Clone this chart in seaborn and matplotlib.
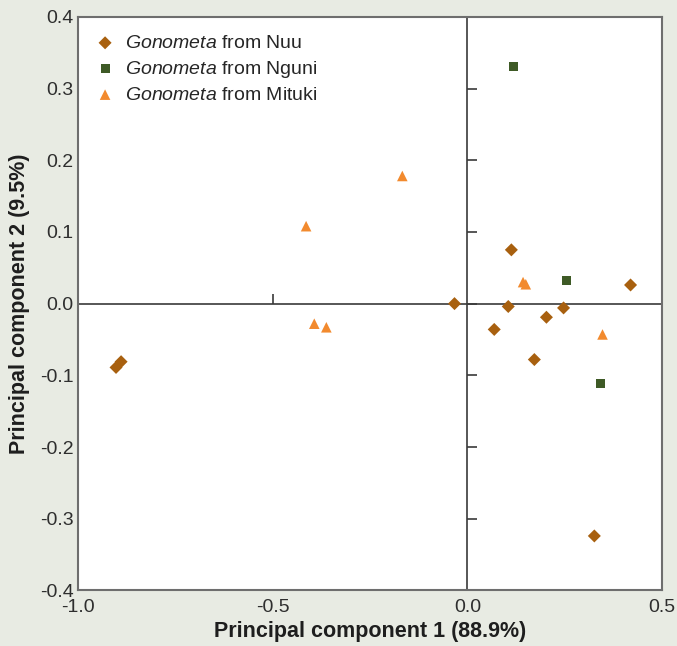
import matplotlib
matplotlib.use("Agg")
import matplotlib.pyplot as plt
from matplotlib.markers import TICKRIGHT, TICKUP
import seaborn as sns
import pandas as pd

groups = [r"$\it{Gonometa}$ from Nuu", r"$\it{Gonometa}$ from Nguni", r"$\it{Gonometa}$ from Mituki"]

nuu_x = [-0.033, -0.902, -0.889, 0.113, 0.105, 0.247, 0.203, 0.069, 0.172, 0.419, 0.326]
nuu_y = [0.000, -0.089, -0.081, 0.075, -0.004, -0.006, -0.019, -0.036, -0.078, 0.026, -0.324]
nguni_x = [0.118, 0.254, 0.342]
nguni_y = [0.330, 0.032, -0.111]
mituki_x = [0.143, 0.150, 0.347, -0.167, -0.414, -0.393, -0.362]
mituki_y = [0.030, 0.027, -0.043, 0.178, 0.108, -0.028, -0.033]

xticks = [-1.0, -0.5, 0.0, 0.5]
yticks = [-0.4, -0.3, -0.2, -0.1, 0.0, 0.1, 0.2, 0.3, 0.4]
xtick_labels = ["-1.0", "-0.5", "0.0", "0.5"]
ytick_labels = ["-0.4", "-0.3", "-0.2", "-0.1", "0.0", "0.1", "0.2", "0.3", "0.4"]

df = pd.concat([
    pd.DataFrame({"pc1": nuu_x, "pc2": nuu_y, "group": groups[0]}),
    pd.DataFrame({"pc1": nguni_x, "pc2": nguni_y, "group": groups[1]}),
    pd.DataFrame({"pc1": mituki_x, "pc2": mituki_y, "group": groups[2]}),
], ignore_index=True)

sns.set_style("white")
plt.rcParams["font.family"] = ["Liberation Sans", "DejaVu Sans"]
plt.rcParams["mathtext.fontset"] = "custom"
plt.rcParams["mathtext.it"] = "Liberation Sans:italic"
plt.rcParams["mathtext.rm"] = "Liberation Sans"

bg = "#e8ebe3"
palette = {groups[0]: "#a8600f", groups[1]: "#3e5a26", groups[2]: "#f28a2e"}
markers = {groups[0]: "D", groups[1]: "s", groups[2]: "^"}
sizes = {groups[0]: 44, groups[1]: 42, groups[2]: 58}

fig = plt.figure(figsize=(6.77, 6.46), dpi=100, facecolor=bg)
ax = fig.add_axes([0.115, 0.086, 0.863, 0.888])
ax.set_facecolor("white")

axis_col = "#3a3a3a"
ax.axhline(0, color=axis_col, lw=1.2, zorder=1)
ax.axvline(0, color=axis_col, lw=1.2, zorder=1)
# tick marks on the internal zero axes
ax.plot([0.0] * len(yticks[1:-1]), yticks[1:-1], ls="", marker=TICKRIGHT,
        ms=7, mew=1.2, color=axis_col, zorder=1)
ax.plot([-0.5], [0.0], ls="", marker=TICKUP, ms=7, mew=1.2, color=axis_col, zorder=1)

for g in groups:
    sub = df[df["group"] == g]
    sns.scatterplot(data=sub, x="pc1", y="pc2", ax=ax, color=palette[g],
                    marker=markers[g], s=sizes[g], edgecolor="none",
                    label=g, zorder=3)

ax.set_xlim(-1.0, 0.5)
ax.set_ylim(-0.4, 0.4)
ax.set_xticks(xticks)
ax.set_xticklabels(xtick_labels)
ax.set_yticks(yticks)
ax.set_yticklabels(ytick_labels)
ax.tick_params(axis="both", direction="in", length=7, width=1.2, color=axis_col,
               labelsize=14, labelcolor="#2e2e2e")
ax.tick_params(axis="x", pad=6)
ax.tick_params(axis="y", pad=3)
for sp in ax.spines.values():
    sp.set_color("#6e6e6e")
    sp.set_linewidth(1.5)

ax.set_xlabel("Principal component 1 (88.9%)", fontsize=15.5, fontweight="bold",
              color="#1e1e1e", labelpad=4)
ax.set_ylabel("Principal component 2 (9.5%)", fontsize=15.5, fontweight="bold",
              color="#1e1e1e", labelpad=7)

ax.legend(loc="upper left", frameon=False, fontsize=14, labelspacing=0.34,
          handlelength=1.0, handletextpad=0.5, borderaxespad=0.4, borderpad=0.5,
          markerscale=1.0)

fig.savefig("out.png", dpi=100, facecolor=bg)
